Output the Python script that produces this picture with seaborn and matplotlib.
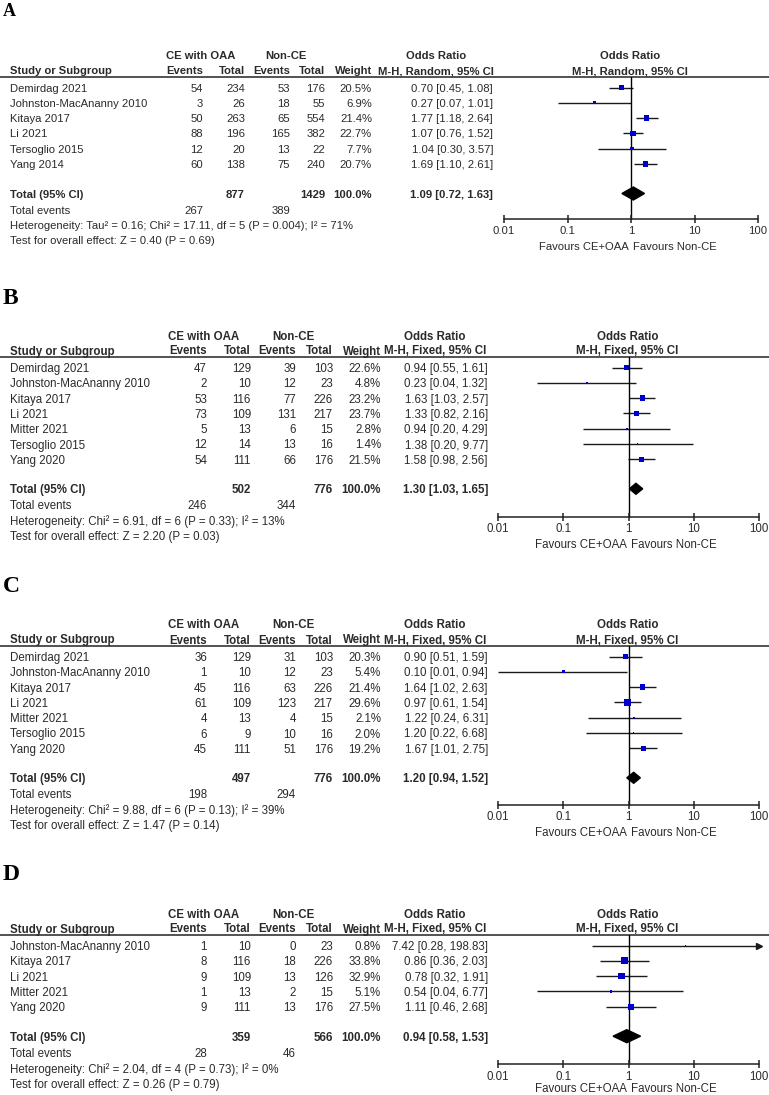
import numpy as np
import matplotlib
matplotlib.use("Agg")
import matplotlib.pyplot as plt
import seaborn as sns
from matplotlib.patches import Polygon

sns.set_style("white")
plt.rcParams["font.family"] = ["Liberation Sans", "DejaVu Sans"]

# ---- panel A ----
studies_a = ["Demirdag 2021", "Johnston-MacAnanny 2010", "Kitaya 2017", "Li 2021",
             "Tersoglio 2015", "Yang 2014"]
ce_events_a = [54, 3, 50, 88, 12, 60]
ce_total_a = [234, 26, 263, 196, 20, 138]
nce_events_a = [53, 18, 65, 165, 13, 75]
nce_total_a = [176, 55, 554, 382, 22, 240]
weight_a = [20.5, 6.9, 21.4, 22.7, 7.7, 20.7]
or_a = [0.70, 0.27, 1.77, 1.07, 1.04, 1.69]
lo_a = [0.45, 0.07, 1.18, 0.76, 0.30, 1.10]
hi_a = [1.08, 1.01, 2.64, 1.52, 3.57, 2.61]
totals_a = [877, 1429, 267, 389]
pooled_a = [1.09, 0.72, 1.63]
method_a = "M-H, Random, 95% CI"
het_a = "Heterogeneity: Tau² = 0.16; Chi² = 17.11, df = 5 (P = 0.004); I² = 71%"
test_a = "Test for overall effect: Z = 0.40 (P = 0.69)"

# ---- panel B ----
studies_b = ["Demirdag 2021", "Johnston-MacAnanny 2010", "Kitaya 2017", "Li 2021",
             "Mitter 2021", "Tersoglio 2015", "Yang 2020"]
ce_events_b = [47, 2, 53, 73, 5, 12, 54]
ce_total_b = [129, 10, 116, 109, 13, 14, 111]
nce_events_b = [39, 12, 77, 131, 6, 13, 66]
nce_total_b = [103, 23, 226, 217, 15, 16, 176]
weight_b = [22.6, 4.8, 23.2, 23.7, 2.8, 1.4, 21.5]
or_b = [0.94, 0.23, 1.63, 1.33, 0.94, 1.38, 1.58]
lo_b = [0.55, 0.04, 1.03, 0.82, 0.20, 0.20, 0.98]
hi_b = [1.61, 1.32, 2.57, 2.16, 4.29, 9.77, 2.56]
totals_b = [502, 776, 246, 344]
pooled_b = [1.30, 1.03, 1.65]
method_b = "M-H, Fixed, 95% CI"
het_b = "Heterogeneity: Chi² = 6.91, df = 6 (P = 0.33); I² = 13%"
test_b = "Test for overall effect: Z = 2.20 (P = 0.03)"

# ---- panel C ----
studies_c = studies_b
ce_events_c = [36, 1, 45, 61, 4, 6, 45]
ce_total_c = [129, 10, 116, 109, 13, 9, 111]
nce_events_c = [31, 12, 63, 123, 4, 10, 51]
nce_total_c = [103, 23, 226, 217, 15, 16, 176]
weight_c = [20.3, 5.4, 21.4, 29.6, 2.1, 2.0, 19.2]
or_c = [0.90, 0.10, 1.64, 0.97, 1.22, 1.20, 1.67]
lo_c = [0.51, 0.01, 1.02, 0.61, 0.24, 0.22, 1.01]
hi_c = [1.59, 0.94, 2.63, 1.54, 6.31, 6.68, 2.75]
totals_c = [497, 776, 198, 294]
pooled_c = [1.20, 0.94, 1.52]
method_c = "M-H, Fixed, 95% CI"
het_c = "Heterogeneity: Chi² = 9.88, df = 6 (P = 0.13); I² = 39%"
test_c = "Test for overall effect: Z = 1.47 (P = 0.14)"

# ---- panel D ----
studies_d = ["Johnston-MacAnanny 2010", "Kitaya 2017", "Li 2021", "Mitter 2021", "Yang 2020"]
ce_events_d = [1, 8, 9, 1, 9]
ce_total_d = [10, 116, 109, 13, 111]
nce_events_d = [0, 18, 13, 2, 13]
nce_total_d = [23, 226, 126, 15, 176]
weight_d = [0.8, 33.8, 32.9, 5.1, 27.5]
or_d = [7.42, 0.86, 0.78, 0.54, 1.11]
lo_d = [0.28, 0.36, 0.32, 0.04, 0.46]
hi_d = [198.83, 2.03, 1.91, 6.77, 2.68]
totals_d = [359, 566, 28, 46]
pooled_d = [0.94, 0.58, 1.53]
method_d = "M-H, Fixed, 95% CI"
het_d = "Heterogeneity: Chi² = 2.04, df = 4 (P = 0.73); I² = 0%"
test_d = "Test for overall effect: Z = 0.26 (P = 0.79)"

ticks = [0.01, 0.1, 1, 10, 100]
tick_labels = ["0.01", "0.1", "1", "10", "100"]

W, H = 769, 1095
TXT = "#2a2a2a"

fig = plt.figure(figsize=(W / 100, H / 100), dpi=100)
base = fig.add_axes([0, 0, 1, 1])
base.set_xlim(0, W); base.set_ylim(H, 0); base.axis("off")


def fmt_or(o, l, h):
    return f"{o:.2f} [{l:.2f}, {h:.2f}]"


def draw_panel(label, lay, studies, ce_ev, ce_tot, nce_ev, nce_tot, weight,
               ors, los, his, totals, pooled, method, het, test):
    sep = lay["sep"]
    fs = lay["fs"]
    c_ev1, c_tot1, c_ev2, c_tot2, c_w, c_or = lay["cols"]
    h_ce, h_nce, h_or = lay["heads"]
    fx0, fx1 = lay["forest"]
    fcen = fx0 + (fx1 - fx0) / 2 - 1
    kw = dict(fontsize=fs, color=TXT, va="center_baseline")
    bkw = dict(kw, fontweight="bold")

    base.text(3, lay["label_y"], label, fontsize=lay["label_fs"], fontweight="bold",
              family="Liberation Serif", va="center", ha="left", color="black")

    # header rows
    y1, y2 = sep - 22, sep - 7
    base.text(h_ce, y1, "CE with OAA", ha="center", **bkw)
    base.text(h_nce, y1, "Non-CE", ha="center", **bkw)
    base.text(h_or, y1, "Odds Ratio", ha="center", **bkw)
    base.text(fcen, y1, "Odds Ratio", ha="center", **bkw)
    base.text(10, y2, "Study or Subgroup", ha="left", **bkw)
    for x, t in zip([c_ev1, c_tot1, c_ev2, c_tot2, c_w],
                    ["Events", "Total", "Events", "Total", "Weight"]):
        base.text(x, y2, t, ha="right", **bkw)
    base.text(h_or, y2, method, ha="center", **bkw)
    base.text(fcen, y2, method, ha="center", **bkw)
    base.plot([0, W], [sep, sep], color="#444444", lw=1.3)

    n = len(studies)
    ys = sep + 10.5 + 15.3 * np.arange(n)
    for i in range(n):
        y = ys[i]
        base.text(10, y, studies[i], ha="left", **kw)
        base.text(c_ev1, y, str(ce_ev[i]), ha="right", **kw)
        base.text(c_tot1, y, str(ce_tot[i]), ha="right", **kw)
        base.text(c_ev2, y, str(nce_ev[i]), ha="right", **kw)
        base.text(c_tot2, y, str(nce_tot[i]), ha="right", **kw)
        base.text(c_w, y, f"{weight[i]:.1f}%", ha="right", **kw)
        base.text(c_or, y, fmt_or(ors[i], los[i], his[i]), ha="right", **kw)

    yt = ys[-1] + 29.5
    base.text(10, yt, "Total (95% CI)", ha="left", **bkw)
    base.text(c_tot1, yt, str(totals[0]), ha="right", **bkw)
    base.text(c_tot2, yt, str(totals[1]), ha="right", **bkw)
    base.text(c_w, yt, "100.0%", ha="right", **bkw)
    base.text(c_or, yt, fmt_or(*pooled), ha="right", **bkw)
    ye = yt + 16
    base.text(10, ye, "Total events", ha="left", **kw)
    base.text(c_ev1, ye, str(totals[2]), ha="right", **kw)
    base.text(c_ev2, ye, str(totals[3]), ha="right", **kw)
    base.text(10, ye + 15.5, het, ha="left", **kw)
    base.text(10, ye + 31, test, ha="left", **kw)

    # forest plot
    ax = fig.add_axes([fx0 / W, 0, (fx1 - fx0) / W, 1])
    ax.patch.set_alpha(0)
    yax = lay["axis_y"]
    his_c = np.minimum(his, 100)
    ax.hlines(ys, los, his_c, color="#1a1a1a", lw=1.0)
    over = np.array(his) > 100
    if over.any():
        ax.plot(np.full(over.sum(), 100), ys[over], marker=">", ms=4,
                color="#1a1a1a", ls="none", clip_on=False)
    k = 0.69
    sns.scatterplot(x=ors, y=ys, size=weight, sizes=(k * min(weight), k * max(weight)),
                    marker="s", color="#0000cc", edgecolor="#0000cc", linewidth=0,
                    legend=False, ax=ax, zorder=3)
    ax.set_xscale("log"); ax.set_xlim(0.01, 100); ax.set_ylim(H, 0); ax.axis("off")
    ax.plot([1, 1], [sep, yax], color="black", lw=1.0, zorder=2)
    o, l, h = pooled
    dh = lay["dh"]
    ax.add_patch(Polygon([[l, yt], [o, yt - dh], [h, yt], [o, yt + dh]],
                         closed=True, color="black", zorder=4))
    ax.plot([0.01, 100], [yax, yax], color="#222222", lw=1.1, clip_on=False)
    ax.vlines(ticks, yax - 4, yax + 3.5, color="#222222", lw=1.1, clip_on=False)
    for t, tl in zip(ticks, tick_labels):
        ax.text(t, yax + 11, tl, ha="center", va="center_baseline", fontsize=fs,
                color=TXT, clip_on=False)
    yf = yax + lay["fav"]
    ax.text(0.93, yf, "Favours CE+OAA", ha="right", va="center_baseline", fontsize=fs,
            color=TXT)
    ax.text(1.08, yf, "Favours Non-CE", ha="left", va="center_baseline", fontsize=fs,
            color=TXT)


lay_a = dict(label_y=12, label_fs=13, fs=8.1, sep=77, cols=(203, 245, 290, 325, 372, 493),
             heads=(201, 286, 436), forest=(504, 758), axis_y=219, dh=6.5, fav=26.5)
lay_b = dict(label_y=298, label_fs=17, fs=8.3, sep=357, cols=(207, 251, 296, 333, 381, 488),
             heads=(204, 293, 435), forest=(498, 759), axis_y=517, dh=5.5, fav=26.5)
lay_c = dict(lay_b, label_y=587, sep=646, axis_y=805)
lay_d = dict(lay_b, label_y=875, sep=935, axis_y=1064, dh=6.5, fav=23.5)

draw_panel("A", lay_a, studies_a, ce_events_a, ce_total_a, nce_events_a, nce_total_a,
           weight_a, or_a, lo_a, hi_a, totals_a, pooled_a, method_a, het_a, test_a)
draw_panel("B", lay_b, studies_b, ce_events_b, ce_total_b, nce_events_b, nce_total_b,
           weight_b, or_b, lo_b, hi_b, totals_b, pooled_b, method_b, het_b, test_b)
draw_panel("C", lay_c, studies_c, ce_events_c, ce_total_c, nce_events_c, nce_total_c,
           weight_c, or_c, lo_c, hi_c, totals_c, pooled_c, method_c, het_c, test_c)
draw_panel("D", lay_d, studies_d, ce_events_d, ce_total_d, nce_events_d, nce_total_d,
           weight_d, or_d, lo_d, hi_d, totals_d, pooled_d, method_d, het_d, test_d)

fig.savefig("out.png", dpi=100)
